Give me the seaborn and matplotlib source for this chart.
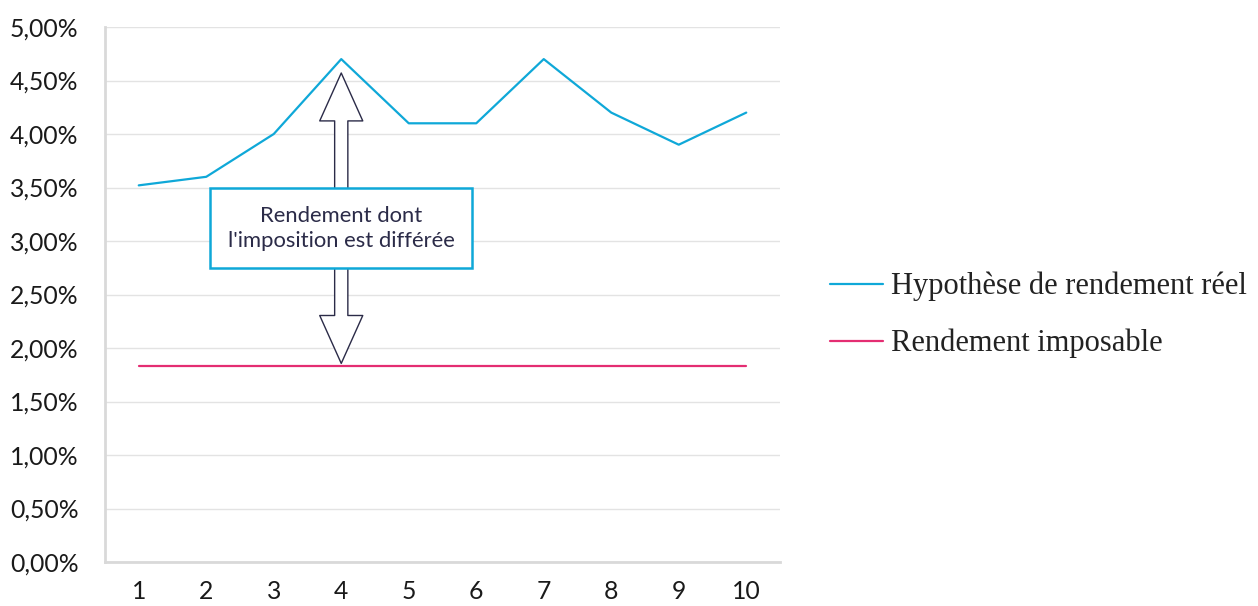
import matplotlib
matplotlib.use("Agg")
import matplotlib.pyplot as plt
from matplotlib.ticker import FuncFormatter, FixedLocator
import numpy as np
import pandas as pd
import seaborn as sns

# Years of the projection and the two yield series (in %)
years = ["1", "2", "3", "4", "5", "6", "7", "8", "9", "10"]
real_yield = [3.52, 3.60, 4.00, 4.70, 4.10, 4.10, 4.70, 4.20, 3.90, 4.20]
taxable_yield = [1.83, 1.83, 1.83, 1.83, 1.83, 1.83, 1.83, 1.83, 1.83, 1.83]
series_labels = ["Hypothèse de rendement réel", "Rendement imposable"]
y_ticks = [0.0, 0.5, 1.0, 1.5, 2.0, 2.5, 3.0, 3.5, 4.0, 4.5, 5.0]
box_text = "Rendement dont\nl'imposition est différée"

BLUE = "#0fa8d8"
PINK = "#e42d72"
NAVY = "#2b2b48"
GRID = "#e3e3e3"
AXIS = "#d9d9d9"

sns.set_theme(style="white")
plt.rcParams["font.family"] = ["Lato", "DejaVu Sans"]

pos = np.arange(len(years))
df = pd.DataFrame({
    "pos": np.concatenate([pos, pos]),
    "value": real_yield + taxable_yield,
    "series": [series_labels[0]] * len(years) + [series_labels[1]] * len(years),
})

fig = plt.figure(figsize=(12.58, 6.06), dpi=100)
ax = fig.add_axes([105 / 1258, 1 - 562 / 606, (780 - 105) / 1258, (562 - 27) / 606])

sns.lineplot(data=df, x="pos", y="value", hue="series",
             palette=[BLUE, PINK], linewidth=1.6, ax=ax, legend=False,
             zorder=4)

ax.set_xlim(-0.5, len(years) - 0.5)
ax.set_ylim(0, 5)
ax.set_xlabel("")
ax.set_ylabel("")

# y axis: percentage labels with comma decimal
ax.yaxis.set_major_locator(FixedLocator(y_ticks))
ax.yaxis.set_major_formatter(FuncFormatter(lambda v, _: f"{v:.2f}".replace(".", ",") + "%"))
ax.grid(axis="y", color=GRID, linewidth=1.0, zorder=0)
ax.tick_params(axis="y", length=8, width=1.0, color=GRID, pad=11,
               labelsize=17.8, labelcolor="#1a1a1a")

# x axis: labels centred on categories, ticks on category boundaries
ax.set_xticks(pos)
ax.set_xticklabels(years)
ax.set_xticks(np.arange(-0.5, len(years)), minor=True)
ax.tick_params(axis="x", which="major", length=0, pad=13,
               labelsize=17.8, labelcolor="#1a1a1a")
ax.tick_params(axis="x", which="minor", length=8, width=1.5, color=AXIS,
               direction="out")

for side in ["top", "right"]:
    ax.spines[side].set_visible(False)
for side in ["left", "bottom"]:
    ax.spines[side].set_color(AXIS)
    ax.spines[side].set_linewidth(2)

# Double arrow between the taxable and real yields at year 4
peak_idx = 3
box_y = 3.12
arrow_style = "simple,head_length=3.45,head_width=3.1,tail_width=0.95"
ax.annotate("", xy=(pos[peak_idx], real_yield[peak_idx]), xytext=(pos[peak_idx], box_y),
            arrowprops=dict(arrowstyle=arrow_style, mutation_scale=10, fc="white",
                            ec=NAVY, lw=1.0, shrinkA=0, shrinkB=10),
            zorder=3)
ax.annotate("", xy=(pos[peak_idx], taxable_yield[peak_idx]), xytext=(pos[peak_idx], box_y),
            arrowprops=dict(arrowstyle=arrow_style, mutation_scale=10, fc="white",
                            ec=NAVY, lw=1.0, shrinkA=0, shrinkB=2),
            zorder=3)
ax.text(pos[peak_idx], box_y, box_text, ha="center", va="center",
        fontsize=15.8, color=NAVY, linespacing=1.3, zorder=6,
        bbox=dict(boxstyle="square,pad=0.8", fc="white", ec=BLUE, lw=1.8))

# Legend to the right of the plot
handles = [plt.Line2D([], [], color=BLUE, lw=1.6),
           plt.Line2D([], [], color=PINK, lw=1.6)]
fig.legend(handles, series_labels, loc="center left",
           bbox_to_anchor=(830 / 1258, 1 - 315 / 606), frameon=False,
           borderpad=0, borderaxespad=0,
           prop={"family": "Liberation Serif", "size": 22},
           labelcolor="#222222", handlelength=1.73, handletextpad=0.26,
           labelspacing=0.9)

fig.savefig("out.png", dpi=100)
